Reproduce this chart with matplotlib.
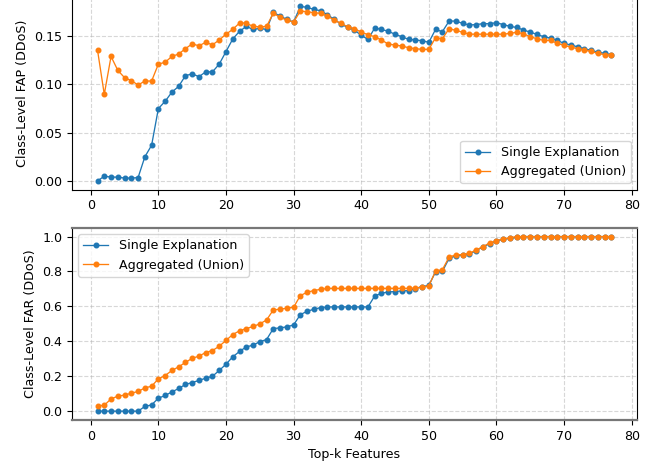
import matplotlib
matplotlib.use('Agg')
import matplotlib.pyplot as plt
import numpy as np

# top-k feature counts
k = np.arange(1, 78)

# class-level FAP (DDoS)
fap_single = [
    0.000, 0.005, 0.004, 0.004, 0.003, 0.003, 0.0035, 0.025, 0.037, 0.075,
    0.0825, 0.092, 0.098, 0.109, 0.111, 0.108, 0.113, 0.113, 0.121, 0.134,
    0.147, 0.155, 0.160, 0.157, 0.158, 0.157, 0.1746, 0.1708, 0.1674, 0.1646,
    0.1808, 0.1798, 0.1777, 0.1763, 0.1722, 0.1674, 0.1625, 0.159, 0.1563, 0.1508,
    0.1467, 0.1584, 0.157, 0.155, 0.152, 0.1494, 0.1467, 0.146, 0.1453, 0.1436,
    0.157, 0.1546, 0.1656, 0.1656, 0.1632, 0.1615, 0.162, 0.1629, 0.1629, 0.1639,
    0.162, 0.1601, 0.159, 0.1563, 0.1542, 0.1518, 0.1494, 0.148, 0.1456, 0.1425,
    0.1408, 0.139, 0.137, 0.1353, 0.1335, 0.1322, 0.1308,
]
fap_union = [
    0.1356, 0.0897, 0.129, 0.1146, 0.107, 0.104, 0.0994, 0.1035, 0.1035, 0.121,
    0.123, 0.129, 0.1315, 0.137, 0.142, 0.140, 0.1436, 0.141, 0.146, 0.152,
    0.157, 0.1636, 0.1636, 0.160, 0.1597, 0.160, 0.1739, 0.1694, 0.1667, 0.1646,
    0.176, 0.1753, 0.1743, 0.1736, 0.1708, 0.1667, 0.1632, 0.1597, 0.1577, 0.1542,
    0.1515, 0.1494, 0.146, 0.1418, 0.1408, 0.1398, 0.138, 0.137, 0.1363, 0.1363,
    0.1484, 0.1473, 0.1577, 0.156, 0.154, 0.152, 0.152, 0.152, 0.152, 0.152,
    0.152, 0.1529, 0.154, 0.1525, 0.1494, 0.1473, 0.1456, 0.1456, 0.1425, 0.1404,
    0.1387, 0.137, 0.1356, 0.1342, 0.1322, 0.1308, 0.1308,
]

# class-level FAR (DDoS)
far_single = [
    0.0, 0.0, 0.0, 0.0, 0.0, 0.0, 0.0, 0.027, 0.036, 0.074,
    0.09, 0.11, 0.13, 0.153, 0.164, 0.176, 0.189, 0.20, 0.233, 0.269,
    0.311, 0.342, 0.368, 0.378, 0.398, 0.41, 0.473, 0.477, 0.483, 0.494,
    0.553, 0.572, 0.584, 0.593, 0.597, 0.597, 0.597, 0.597, 0.597, 0.597,
    0.597, 0.66, 0.675, 0.683, 0.685, 0.689, 0.69, 0.702, 0.714, 0.72,
    0.798, 0.80, 0.875, 0.89, 0.895, 0.90, 0.92, 0.94, 0.96, 0.975,
    0.985, 0.99, 0.995, 1.0, 1.0, 1.0, 1.0, 1.0, 1.0, 1.0,
    1.0, 1.0, 1.0, 1.0, 1.0, 1.0, 1.0,
]
far_union = [
    0.029, 0.034, 0.07, 0.086, 0.092, 0.103, 0.113, 0.133, 0.143, 0.185,
    0.204, 0.233, 0.254, 0.279, 0.303, 0.315, 0.336, 0.347, 0.372, 0.405,
    0.439, 0.46, 0.473, 0.485, 0.50, 0.522, 0.58, 0.584, 0.59, 0.595,
    0.662, 0.681, 0.691, 0.698, 0.703, 0.703, 0.703, 0.703, 0.703, 0.703,
    0.703, 0.703, 0.703, 0.703, 0.703, 0.703, 0.703, 0.705, 0.71, 0.717,
    0.803, 0.81, 0.883, 0.895, 0.897, 0.904, 0.923, 0.943, 0.963, 0.977,
    0.986, 0.994, 1.0, 1.0, 1.0, 1.0, 1.0, 1.0, 1.0, 1.0,
    1.0, 1.0, 1.0, 1.0, 1.0, 1.0, 1.0,
]

labels = ['Single Explanation', 'Aggregated (Union)']

# reference looks like a slightly downscaled render, so fonts a bit under 10pt
plt.rcParams['font.size'] = 9.1

fig = plt.figure(figsize=(6.65, 4.65), dpi=100)
# top panel runs slightly past the upper edge (as in the cropped reference)
ax1 = fig.add_axes([0.108, 0.592, 0.850, 0.413])
ax2 = fig.add_axes([0.108, 0.097, 0.850, 0.413])

style = dict(marker='o', markersize=3.3, linewidth=0.95)

ax1.plot(k, fap_single, color='#1f77b4', label=labels[0], **style)
ax1.plot(k, fap_union, color='#ff7f0e', label=labels[1], **style)
ax1.set_ylabel('Class-Level FAP (DDoS)')
ax1.grid(True, linestyle='--', alpha=0.5)
ax1.legend(loc='lower right')
ax1.set_xticks(np.arange(0, 81, 10))

ax2.plot(k, far_single, color='#1f77b4', label=labels[0], **style)
ax2.plot(k, far_union, color='#ff7f0e', label=labels[1], **style)
ax2.set_ylabel('Class-Level FAR (DDoS)')
ax2.set_xlabel('Top-k Features')
ax2.grid(True, linestyle='--', alpha=0.5)
ax2.legend(loc='upper left')
ax2.set_xticks(np.arange(0, 81, 10))
for side in ('top', 'bottom'):
    ax2.spines[side].set_color('#777777')
    ax2.spines[side].set_linewidth(1.6)

fig.savefig('out.png', dpi=100)
